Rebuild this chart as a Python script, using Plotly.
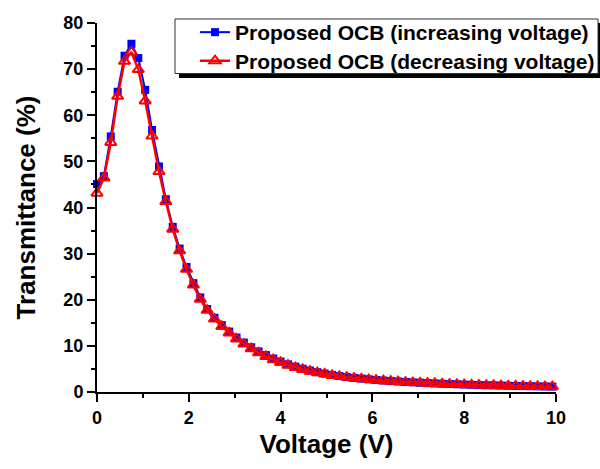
import plotly.graph_objects as go

# ---- data ----
voltage = [0, 0.15, 0.3, 0.45, 0.6, 0.75, 0.9, 1.05, 1.2, 1.35, 1.5, 1.65, 1.8, 1.95, 2.1, 2.25, 2.4,
           2.56, 2.72, 2.88, 3.04, 3.2, 3.36, 3.52, 3.68, 3.84, 4.0, 4.16, 4.32, 4.48, 4.64, 4.8,
           4.96, 5.12, 5.28, 5.44, 5.6, 5.76, 5.92, 6.08, 6.24, 6.4, 6.56, 6.72, 6.88, 7.04, 7.2,
           7.36, 7.52, 7.68, 7.84, 8.0, 8.16, 8.32, 8.48, 8.64, 8.8, 8.96, 9.12, 9.28, 9.44, 9.6,
           9.76, 9.92]

trans_increasing = [45.1, 46.8, 55.4, 65.1, 72.9, 75.5, 72.4, 65.5, 56.8, 48.9, 41.8, 35.8, 31.1, 27.1,
                    23.6, 20.5, 18.0,
                    16.1, 14.5, 13.1, 11.8, 10.7, 9.7, 8.8, 8.0, 7.25, 6.6, 6.0, 5.5, 5.05, 4.65, 4.3,
                    4.0, 3.7, 3.45, 3.25, 3.05, 2.9, 2.75, 2.6, 2.48, 2.37, 2.27, 2.17, 2.08, 2.0, 1.92,
                    1.85, 1.79, 1.73, 1.67, 1.61, 1.56, 1.51, 1.47, 1.43, 1.39, 1.35, 1.31, 1.28, 1.25,
                    1.22, 1.19, 1.16]

trans_decreasing = [43.1, 46.4, 54.1, 64.1, 71.7, 73.7, 69.9, 63.1, 55.5, 47.8, 41.3, 35.3, 30.6, 26.6,
                    23.2, 20.1, 17.7,
                    15.8, 14.2, 12.8, 11.5, 10.4, 9.4, 8.5, 7.7, 7.0, 6.4, 5.8, 5.3, 4.9, 4.5, 4.2,
                    3.9, 3.6, 3.4, 3.2, 3.0, 2.85, 2.7, 2.55, 2.45, 2.35, 2.25, 2.15, 2.05, 1.98, 1.9,
                    1.84, 1.78, 1.72, 1.66, 1.6, 1.55, 1.5, 1.46, 1.42, 1.38, 1.34, 1.3, 1.27, 1.24,
                    1.21, 1.18, 1.15]

series_names = ["Proposed OCB (increasing voltage)", "Proposed OCB (decreasing voltage)"]
x_ticks = [0, 2, 4, 6, 8, 10]
y_ticks = [0, 10, 20, 30, 40, 50, 60, 70, 80]

FONT = "Liberation Sans, Arial, sans-serif"

W, H = 600, 469
ML, MR, MT, MB = 97, 44, 23, 77
PW, PH = W - ML - MR, H - MT - MB


def px2paper_x(px):
    return (px - ML) / PW


def px2paper_y(py):
    return (H - MB - py) / PH


fig = go.Figure()
fig.add_trace(go.Scatter(
    x=voltage, y=trans_increasing, name=series_names[0], mode="lines+markers",
    line=dict(color="#0000ff", width=2),
    marker=dict(symbol="square", size=8, color="#0000ff"),
    cliponaxis=False, legend="legend",
))
fig.add_trace(go.Scatter(
    x=voltage, y=trans_decreasing, name=series_names[1], mode="lines+markers",
    line=dict(color="#ff0000", width=2.5),
    marker=dict(symbol="triangle-up-open", size=10, color="#ff0000", line=dict(width=2, color="#ff0000")),
    cliponaxis=False, legend="legend2",
))

# legend frame: drop shadow + white box with thin border
fig.add_shape(type="rect", xref="paper", yref="paper",
              x0=px2paper_x(179), x1=px2paper_x(602), y0=px2paper_y(78), y1=px2paper_y(23),
              fillcolor="black", line=dict(width=0), layer="above")
fig.add_shape(type="rect", xref="paper", yref="paper",
              x0=px2paper_x(175), x1=px2paper_x(598), y0=px2paper_y(73.5), y1=px2paper_y(19),
              fillcolor="white", line=dict(width=1, color="#333333"), layer="above")

axis_common = dict(
    showline=True, linecolor="black", linewidth=2,
    ticks="outside", ticklen=8, tickwidth=2, tickcolor="black",
    showgrid=False, zeroline=False, mirror=False,
    tickfont=dict(family=FONT, size=18, color="black", weight="bold"),
)

fig.update_xaxes(
    range=[0, 10], tickvals=x_ticks,
    minor=dict(dtick=1, ticks="outside", ticklen=4, tickwidth=2, tickcolor="black"),
    title=dict(text="Voltage (V)", font=dict(family=FONT, size=26, color="black", weight="bold"), standoff=8),
    **axis_common,
)
fig.update_yaxes(
    range=[0, 80], tickvals=y_ticks,
    minor=dict(dtick=5, ticks="outside", ticklen=4, tickwidth=2, tickcolor="black"),
    title=dict(text="Transmittance (%)", font=dict(family=FONT, size=26, color="black", weight="bold"), standoff=20),
    **axis_common,
)

legend_common = dict(
    xanchor="left", yanchor="top",
    bgcolor="rgba(0,0,0,0)", borderwidth=0,
    font=dict(family=FONT, size=21, color="black", weight="bold"),
    itemwidth=30,
)

fig.update_layout(
    width=W, height=H,
    margin=dict(l=ML, r=MR, t=MT, b=MB, autoexpand=False),
    paper_bgcolor="white", plot_bgcolor="white",
    font=dict(family=FONT, color="black"),
    showlegend=True,
    legend=dict(x=px2paper_x(195), y=px2paper_y(12), **legend_common),
    legend2=dict(x=px2paper_x(195), y=px2paper_y(40.5), **legend_common),
)

fig.write_html("out.html")
